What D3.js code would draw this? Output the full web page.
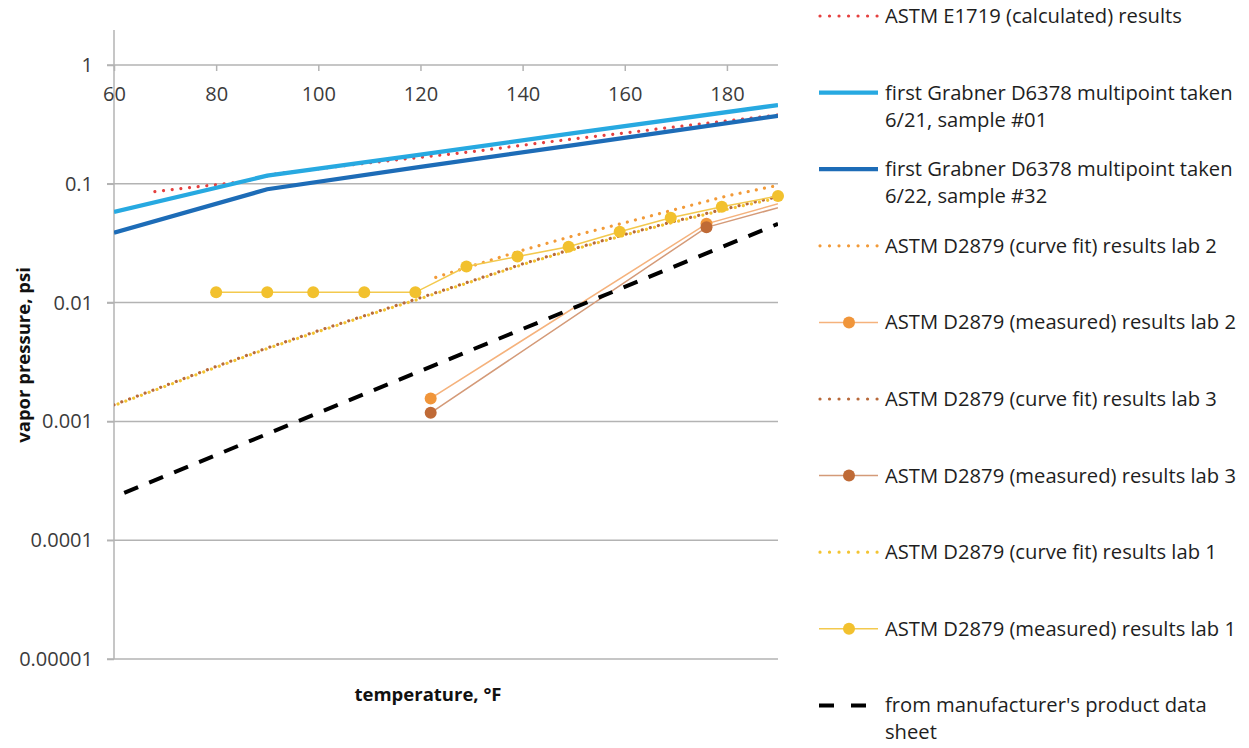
<!DOCTYPE html>
<html>
<head>
<meta charset="utf-8">
<script src="https://cdn.jsdelivr.net/npm/d3@7"></script>
<style>
  body { margin: 0; background: #fff; }
  text { font-family: "Open Sans", sans-serif; }
</style>
</head>
<body>
<svg id="chart" width="1249" height="748"></svg>
<script>
// temperature (°F) / vapor pressure (psi)
const tempE1719 = [68, 85, 92, 110, 130, 145, 160, 175, 190];
const vpE1719 = [0.086, 0.104, 0.122, 0.15, 0.186, 0.225, 0.268, 0.32, 0.38];

const tempGrab01 = [60, 90, 120, 150, 190];
const vpGrab01 = [0.058, 0.117, 0.176, 0.267, 0.46];

const tempGrab32 = [60, 90, 120, 150, 190];
const vpGrab32 = [0.0387, 0.09, 0.139, 0.212, 0.373];

const tempFitLab2 = [123, 130, 140, 150, 160, 170, 180, 190];
const vpFitLab2 = [0.0163, 0.0203, 0.0276, 0.0365, 0.047, 0.061, 0.079, 0.097];

const tempMeasLab2 = [122, 176, 195];
const vpMeasLab2 = [0.00156, 0.046, 0.078];

const tempFitLab3 = [60, 70, 80, 90, 100, 110, 120, 130, 140, 150, 160, 170, 180, 190];
const vpFitLab3 = [0.00138, 0.002, 0.0029, 0.00415, 0.0058, 0.008, 0.011, 0.0152, 0.0212, 0.0284, 0.0375, 0.0487, 0.062, 0.078];

const tempMeasLab3 = [122, 176, 195];
const vpMeasLab3 = [0.00118, 0.043, 0.072];

const tempFitLab1 = [60, 70, 80, 90, 100, 110, 120, 130, 140, 150, 160, 170, 180, 190];
const vpFitLab1 = [0.00136, 0.00197, 0.00285, 0.0041, 0.0057, 0.0079, 0.0108, 0.015, 0.0209, 0.028, 0.037, 0.048, 0.061, 0.076];

const tempMeasLab1 = [80, 90, 99, 109, 119, 129, 139, 149, 159, 169, 179, 190];
const vpMeasLab1 = [0.0122, 0.0122, 0.0122, 0.0122, 0.0122, 0.0201, 0.0244, 0.0295, 0.0395, 0.0517, 0.064, 0.079];

const tempMfr = [62, 100, 140, 190];
const vpMfr = [0.00025, 0.00118, 0.006, 0.046];

const xTicks = [60, 80, 100, 120, 140, 160, 180];
const yTicks = [0.00001, 0.0001, 0.001, 0.01, 0.1, 1];
const yTickLabels = ["0.00001", "0.0001", "0.001", "0.01", "0.1", "1"];

const zip = (xs, ys) => xs.map((x, i) => ({ t: x, v: ys[i] }));

// series in legend order
const series = [
  { name: ["ASTM E1719 (calculated) results"], data: zip(tempE1719, vpE1719),
    color: "#e5403f", width: 3.2, dash: "0.01 8.7", z: 1 },
  { name: ["first Grabner D6378 multipoint taken", "6/21, sample #01"], data: zip(tempGrab01, vpGrab01),
    color: "#27a9e1", width: 4.3, z: 2 },
  { name: ["first Grabner D6378 multipoint taken", "6/22, sample #32"], data: zip(tempGrab32, vpGrab32),
    color: "#1d6cb7", width: 4.3, z: 3 },
  { name: ["ASTM D2879 (curve fit) results lab 2"], data: zip(tempFitLab2, vpFitLab2),
    color: "#f29a38", width: 3.2, dash: "0.01 8.3", z: 4 },
  { name: ["ASTM D2879 (measured) results lab 2"], data: zip(tempMeasLab2, vpMeasLab2),
    color: "#f5b27c", width: 1.5, marker: "#f0953a", z: 6 },
  { name: ["ASTM D2879 (curve fit) results lab 3"], data: zip(tempFitLab3, vpFitLab3),
    color: "#b8693a", width: 3.2, dash: "0.01 8.3", z: 4 },
  { name: ["ASTM D2879 (measured) results lab 3"], data: zip(tempMeasLab3, vpMeasLab3),
    color: "#d49a78", width: 1.5, marker: "#bf6a36", z: 7 },
  { name: ["ASTM D2879 (curve fit) results lab 1"], data: zip(tempFitLab1, vpFitLab1),
    color: "#f3c432", width: 3.2, dash: "0.01 8.3", dashOffset: 4, z: 5 },
  { name: ["ASTM D2879 (measured) results lab 1"], data: zip(tempMeasLab1, vpMeasLab1),
    color: "#f3c94e", width: 1.5, marker: "#f2c12e", z: 8 },
  { name: ["from manufacturer's product data", "sheet"], data: zip(tempMfr, vpMfr),
    color: "#000000", width: 4, dash: "15 12", z: 9 }
];

const isDotted = (s) => s.dash && s.dash.startsWith("0.01");

const svg = d3.select("#chart");

const x = d3.scaleLinear().domain([60, 190]).range([114, 778]);
const y = d3.scaleLog().domain([0.00001, Math.pow(10, 35 / 118.8)]).range([659, 30]);

// gridlines
svg.append("g")
  .selectAll("line")
  .data(yTicks.filter((d) => d < 1))
  .join("line")
  .attr("x1", 107)
  .attr("x2", x(190))
  .attr("y1", (d) => y(d))
  .attr("y2", (d) => y(d))
  .attr("stroke", "#b3b3b3")
  .attr("stroke-width", 1.5);

// y axis
const yAxis = svg.append("g")
  .attr("transform", `translate(${x(60)},0)`)
  .call(d3.axisLeft(y).tickValues(yTicks).tickSize(7).tickPadding(14)
    .tickFormat((d, i) => yTickLabels[i]));
yAxis.select(".domain").remove();
yAxis.append("line")
  .attr("y1", y.range()[1])
  .attr("y2", y(0.00001))
  .attr("stroke", "#b3b3b3")
  .attr("stroke-width", 1.5);

// x axis sits on the 1 psi line
const xAxis = svg.append("g")
  .attr("transform", `translate(0,${y(1)})`)
  .call(d3.axisBottom(x).tickValues(xTicks).tickSize(6).tickPadding(16).tickSizeOuter(0));
xAxis.select(".domain")
  .attr("d", `M${x(60) - 7},0H${x(190)}`);

svg.selectAll(".tick line").attr("stroke", "#b3b3b3").attr("stroke-width", 1.5);
svg.selectAll(".domain").attr("stroke", "#b3b3b3").attr("stroke-width", 1.5);
svg.selectAll(".tick text")
  .attr("fill", "#3b3b3b")
  .style("font-size", "20px")
  .style("font-family", "'Open Sans', sans-serif");

// axis titles
svg.append("text")
  .attr("x", 428)
  .attr("y", 701)
  .attr("text-anchor", "middle")
  .attr("font-weight", "bold")
  .attr("font-size", 18.5)
  .attr("fill", "#111")
  .text("temperature, °F");

svg.append("text")
  .attr("transform", "translate(30,355) rotate(-90)")
  .attr("text-anchor", "middle")
  .attr("font-weight", "bold")
  .attr("font-size", 18.5)
  .attr("fill", "#111")
  .text("vapor pressure, psi");

// plot clip
svg.append("clipPath")
  .attr("id", "plot-clip")
  .append("rect")
  .attr("x", x(60))
  .attr("y", y.range()[1])
  .attr("width", x(190) - x(60))
  .attr("height", y(0.00001) - y.range()[1]);

const line = d3.line().x((d) => x(d.t)).y((d) => y(d.v));

const plotG = svg.append("g");
const ordered = series.slice().sort((a, b) => a.z - b.z);

for (const s of ordered) {
  plotG.append("path")
    .datum(s.data)
    .attr("clip-path", "url(#plot-clip)")
    .attr("d", line)
    .attr("fill", "none")
    .attr("stroke", s.color)
    .attr("stroke-width", s.width)
    .attr("stroke-linecap", isDotted(s) ? "round" : "butt")
    .attr("stroke-dasharray", s.dash || null)
    .attr("stroke-dashoffset", s.dashOffset || 0);

  if (s.marker) {
    plotG.append("g")
      .selectAll("circle")
      .data(s.data.filter((d) => d.t <= 190))
      .join("circle")
      .attr("cx", (d) => x(d.t))
      .attr("cy", (d) => y(d.v))
      .attr("r", 6)
      .attr("fill", s.marker);
  }
}

// legend
const legend = svg.append("g");
series.forEach((s, i) => {
  const ly = 16 + i * 76.6;
  const g = legend.append("g").attr("transform", `translate(0,${ly})`);
  g.append("line")
    .attr("x1", isDotted(s) ? 820 : 819)
    .attr("x2", 878)
    .attr("stroke", s.color)
    .attr("stroke-width", s.marker ? 1.5 : s.width)
    .attr("stroke-linecap", isDotted(s) ? "round" : "butt")
    .attr("stroke-dasharray", s.dash ? (isDotted(s) ? "0.01 9.5" : "15 17") : null);
  if (s.marker) {
    g.append("circle").attr("cx", 849).attr("r", 6).attr("fill", s.marker);
  }
  g.selectAll("text")
    .data(s.name)
    .join("text")
    .attr("x", 885)
    .attr("y", (d, j) => j * 27)
    .attr("dy", "0.35em")
    .attr("font-size", 20.2)
    .attr("fill", "#1e1e1e")
    .text((d) => d);
});
</script>
</body>
</html>
